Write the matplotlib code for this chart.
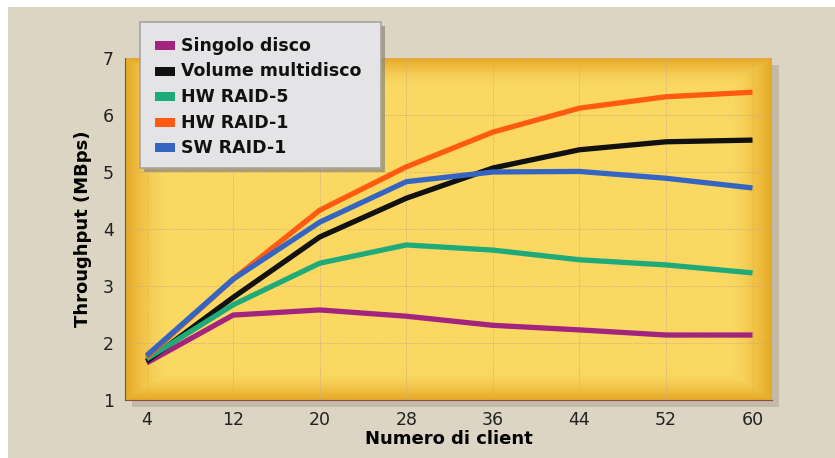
import numpy as np
import matplotlib
matplotlib.use("Agg")
import matplotlib.pyplot as plt
from matplotlib.patches import Rectangle

clients = [4, 12, 20, 28, 36, 44, 52, 60]
singolo = [1.65, 2.49, 2.58, 2.47, 2.31, 2.23, 2.14, 2.14]
multidisco = [1.68, 2.80, 3.86, 4.54, 5.07, 5.39, 5.53, 5.56]
raid5_hw = [1.72, 2.67, 3.40, 3.72, 3.63, 3.46, 3.37, 3.23]
raid1_hw = [1.75, 3.12, 4.33, 5.09, 5.70, 6.12, 6.32, 6.40]
raid1_sw = [1.78, 3.12, 4.12, 4.83, 5.00, 5.01, 4.89, 4.72]

names = ["Singolo disco", "Volume multidisco", "HW RAID-5", "HW RAID-1", "SW RAID-1"]
colors = ["#A3247E", "#111111", "#1FAA7A", "#FF5A12", "#3565C2"]
series = [singolo, multidisco, raid5_hw, raid1_hw, raid1_sw]

fig = plt.figure(figsize=(8.35, 4.58), dpi=100)
fig.patch.set_facecolor("white")

# beige panel behind everything
fig.patches.append(Rectangle((8 / 835, 0), 1, 1 - 7 / 458, transform=fig.transFigure,
                             facecolor="#DDD5C4", edgecolor="none", zorder=-10))

x0, x1, y0, y1 = 125 / 835, 772 / 835, 1 - 400 / 458, 1 - 58 / 458
# drop shadow of the plot area
fig.patches.append(Rectangle((x0 + 7 / 835, y0 - 7 / 458), x1 - x0, y1 - y0,
                             transform=fig.transFigure, facecolor="#B0A68F",
                             edgecolor="none", alpha=0.55, zorder=-5))

ax = fig.add_axes([x0, y0, x1 - x0, y1 - y0])

# yellow fill with darker edges
nx, ny = 300, 160
gx = np.linspace(0, 1, nx)
gy = np.linspace(0, 1, ny)
ex = np.minimum(gx, 1 - gx)[None, :] * 16
ey = np.minimum(gy, 1 - gy)[:, None] * 13
edge = np.clip(1 - np.minimum(ex, ey), 0, 1) ** 1.5
c_mid = np.array([250, 216, 98]) / 255
c_edge = np.array([230, 170, 40]) / 255
img = c_mid[None, None, :] * (1 - edge[..., None]) + c_edge[None, None, :] * edge[..., None]
ax.imshow(img, extent=[0, 1, 0, 1], transform=ax.transAxes, aspect="auto", zorder=0)

for vals, name, col in zip(series, names, colors):
    ax.plot(clients, vals, color=col, lw=3.8, label=name, zorder=3,
            solid_capstyle="butt", solid_joinstyle="round")

ax.set_xlim(2.0, 61.8)
ax.set_ylim(1, 7)
ax.set_xticks(clients)
ax.set_yticks(range(1, 8))
ax.grid(True, color="#C9A88A", lw=0.7, ls=(0, (1, 1.5)), zorder=1)
ax.tick_params(length=0, labelsize=12.5, colors="#222222", pad=8)
for s in ax.spines.values():
    s.set_visible(False)
ax.spines["left"].set_visible(True)
ax.spines["bottom"].set_visible(True)
ax.spines["left"].set_color("#6A5A40")
ax.spines["bottom"].set_color("#8A4A50")

ax.set_xlabel("Numero di client", fontsize=13, fontweight="bold",
              family="DejaVu Sans", labelpad=1)
ax.set_ylabel("Throughput (MBps)", fontsize=13, fontweight="bold",
              family="DejaVu Sans", labelpad=8)

# legend box with shadow
lx0, ly0, lw, lh = 140 / 835, 1 - 168 / 458, 241 / 835, 146 / 458
fig.patches.append(Rectangle((lx0 + 4 / 835, ly0 - 4 / 458), lw, lh,
                             transform=fig.transFigure, facecolor="#8C8678",
                             edgecolor="none", alpha=0.7, zorder=20))
fig.patches.append(Rectangle((lx0, ly0), lw, lh, transform=fig.transFigure,
                             facecolor="#E4E4E6", edgecolor="#A8A4A0", lw=1.2, zorder=21))
for i, (name, col) in enumerate(zip(names, colors)):
    yy = 1 - (46 + i * 25.5) / 458
    fig.patches.append(Rectangle((155 / 835, yy - 4 / 458), 20 / 835, 9 / 458,
                                 transform=fig.transFigure, facecolor=col,
                                 edgecolor="none", zorder=22))
    fig.text(181 / 835, yy, name, fontsize=12.5, fontweight="bold", family="DejaVu Sans",
             color="#111111", va="center", ha="left", zorder=23)

fig.savefig("out.png", dpi=100, facecolor=fig.get_facecolor())
